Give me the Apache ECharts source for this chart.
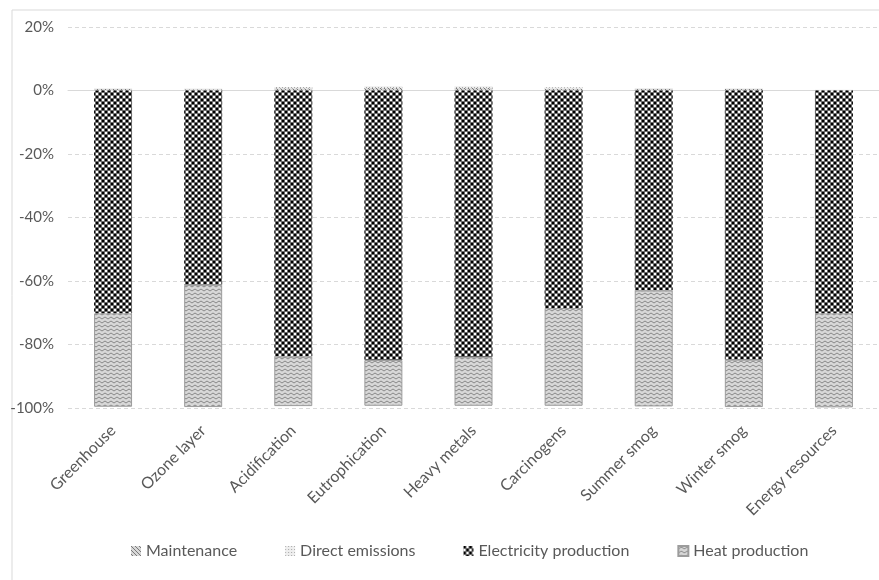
<!DOCTYPE html>
<html>
<head>
<meta charset="utf-8">
<script src="https://cdn.jsdelivr.net/npm/echarts@6/dist/echarts.min.js"></script>
<style>
  html, body { margin: 0; padding: 0; background: #ffffff; }
  #chart { width: 879px; height: 580px; }
</style>
</head>
<body>
<div id="chart"></div>
<script>
// Impact categories and the share (%) of each contributor
const categories = ['Greenhouse', 'Ozone layer', 'Acidification', 'Eutrophication', 'Heavy metals',
  'Carcinogens', 'Summer smog', 'Winter smog', 'Energy resources'];
const maintenance = [0.5, 0.4, 0.7, 0.8, 0.8, 0.6, 0.5, 0.5, 0.1];
const directEmissions = [0.2, 0.2, 0.4, 0.5, 0.5, 0.4, 0.3, 0.2, 0.1];
const electricityProduction = [-70.2, -61.2, -83.8, -84.9, -84.0, -68.5, -63.0, -84.8, -70.2];
const heatProduction = [-29.4, -38.5, -15.6, -14.4, -15.3, -30.8, -36.5, -14.9, -29.6];
const yTicks = { min: -100, max: 20, step: 20 };

// Small repeating fill tiles
function tile(w, h, draw) {
  const c = document.createElement('canvas');
  c.width = w; c.height = h;
  const g = c.getContext('2d');
  draw(g, w, h);
  return { image: c, repeat: 'repeat' };
}
const checkerFill = tile(6, 6, (g) => {
  g.fillStyle = '#6a6a6a'; g.fillRect(0, 0, 6, 6);
  g.fillStyle = '#000000'; g.fillRect(0, 0, 2, 2); g.fillRect(3, 3, 2, 2);
  g.fillStyle = '#ffffff'; g.fillRect(3, 0, 2, 2); g.fillRect(0, 3, 2, 2);
});
const waveFill = tile(6, 4, (g) => {
  g.fillStyle = '#d8d8d8'; g.fillRect(0, 0, 6, 4);
  g.strokeStyle = '#888888'; g.lineWidth = 1;
  g.beginPath(); g.moveTo(0, 3); g.lineTo(3, 1); g.lineTo(6, 3); g.stroke();
});
const diagFill = tile(4, 4, (g) => {
  g.fillStyle = '#d8d8d8'; g.fillRect(0, 0, 4, 4);
  g.fillStyle = '#7a7a7a';
  for (let i = 0; i < 4; i++) g.fillRect(i, i, 1, 1);
});
const dotFill = tile(3, 3, (g) => {
  g.fillStyle = '#eeeeee'; g.fillRect(0, 0, 3, 3);
  g.fillStyle = '#a8a8a8'; g.fillRect(0, 0, 1, 1);
});

const textColor = '#595959';
const fontFamily = 'Lato, "Open Sans", sans-serif';

function barSeries(name, data, fill, border) {
  return {
    name, type: 'bar', stack: 'total', data,
    barWidth: 38,
    itemStyle: { color: fill, borderColor: border || 'transparent', borderWidth: border ? 1 : 0 },
    emphasis: { disabled: true }
  };
}

const chart = echarts.init(document.getElementById('chart'), null, { renderer: 'canvas' });
chart.setOption({
  animation: false,
  backgroundColor: '#ffffff',
  textStyle: { fontFamily },
  graphic: [{
    type: 'rect', left: 9.5, top: 7.5,
    shape: { width: 900, height: 600 },
    style: { fill: 'none', stroke: '#d9d9d9', lineWidth: 1 },
    silent: true
  }],
  grid: { left: 68, top: 27, width: 820, height: 381, containLabel: false },
  legend: {
    left: 126, top: 538,
    itemWidth: 10, itemHeight: 10, itemGap: 48,
    icon: 'rect',
    textStyle: { color: textColor, fontSize: 16, fontFamily },
    data: ['Maintenance', 'Direct emissions', 'Electricity production', 'Heat production']
  },
  xAxis: {
    type: 'category', data: categories,
    axisLine: { show: true, onZero: true, lineStyle: { color: '#d9d9d9' } },
    axisTick: { show: false },
    axisLabel: { rotate: 45, color: textColor, fontSize: 16, fontFamily, margin: 20, interval: 0 },
    position: 'bottom'
  },
  yAxis: {
    type: 'value', min: yTicks.min, max: yTicks.max, interval: yTicks.step,
    axisLine: { show: false }, axisTick: { show: false },
    axisLabel: { color: textColor, fontSize: 15, fontFamily, margin: 14, formatter: '{value}%' },
    splitLine: { lineStyle: { color: '#d9d9d9', type: [4, 3] } }
  },
  series: [
    barSeries('Maintenance', maintenance, diagFill),
    barSeries('Direct emissions', directEmissions, dotFill),
    barSeries('Electricity production', electricityProduction, checkerFill),
    barSeries('Heat production', heatProduction, waveFill, '#9c9c9c')
  ]
});
</script>
</body>
</html>
